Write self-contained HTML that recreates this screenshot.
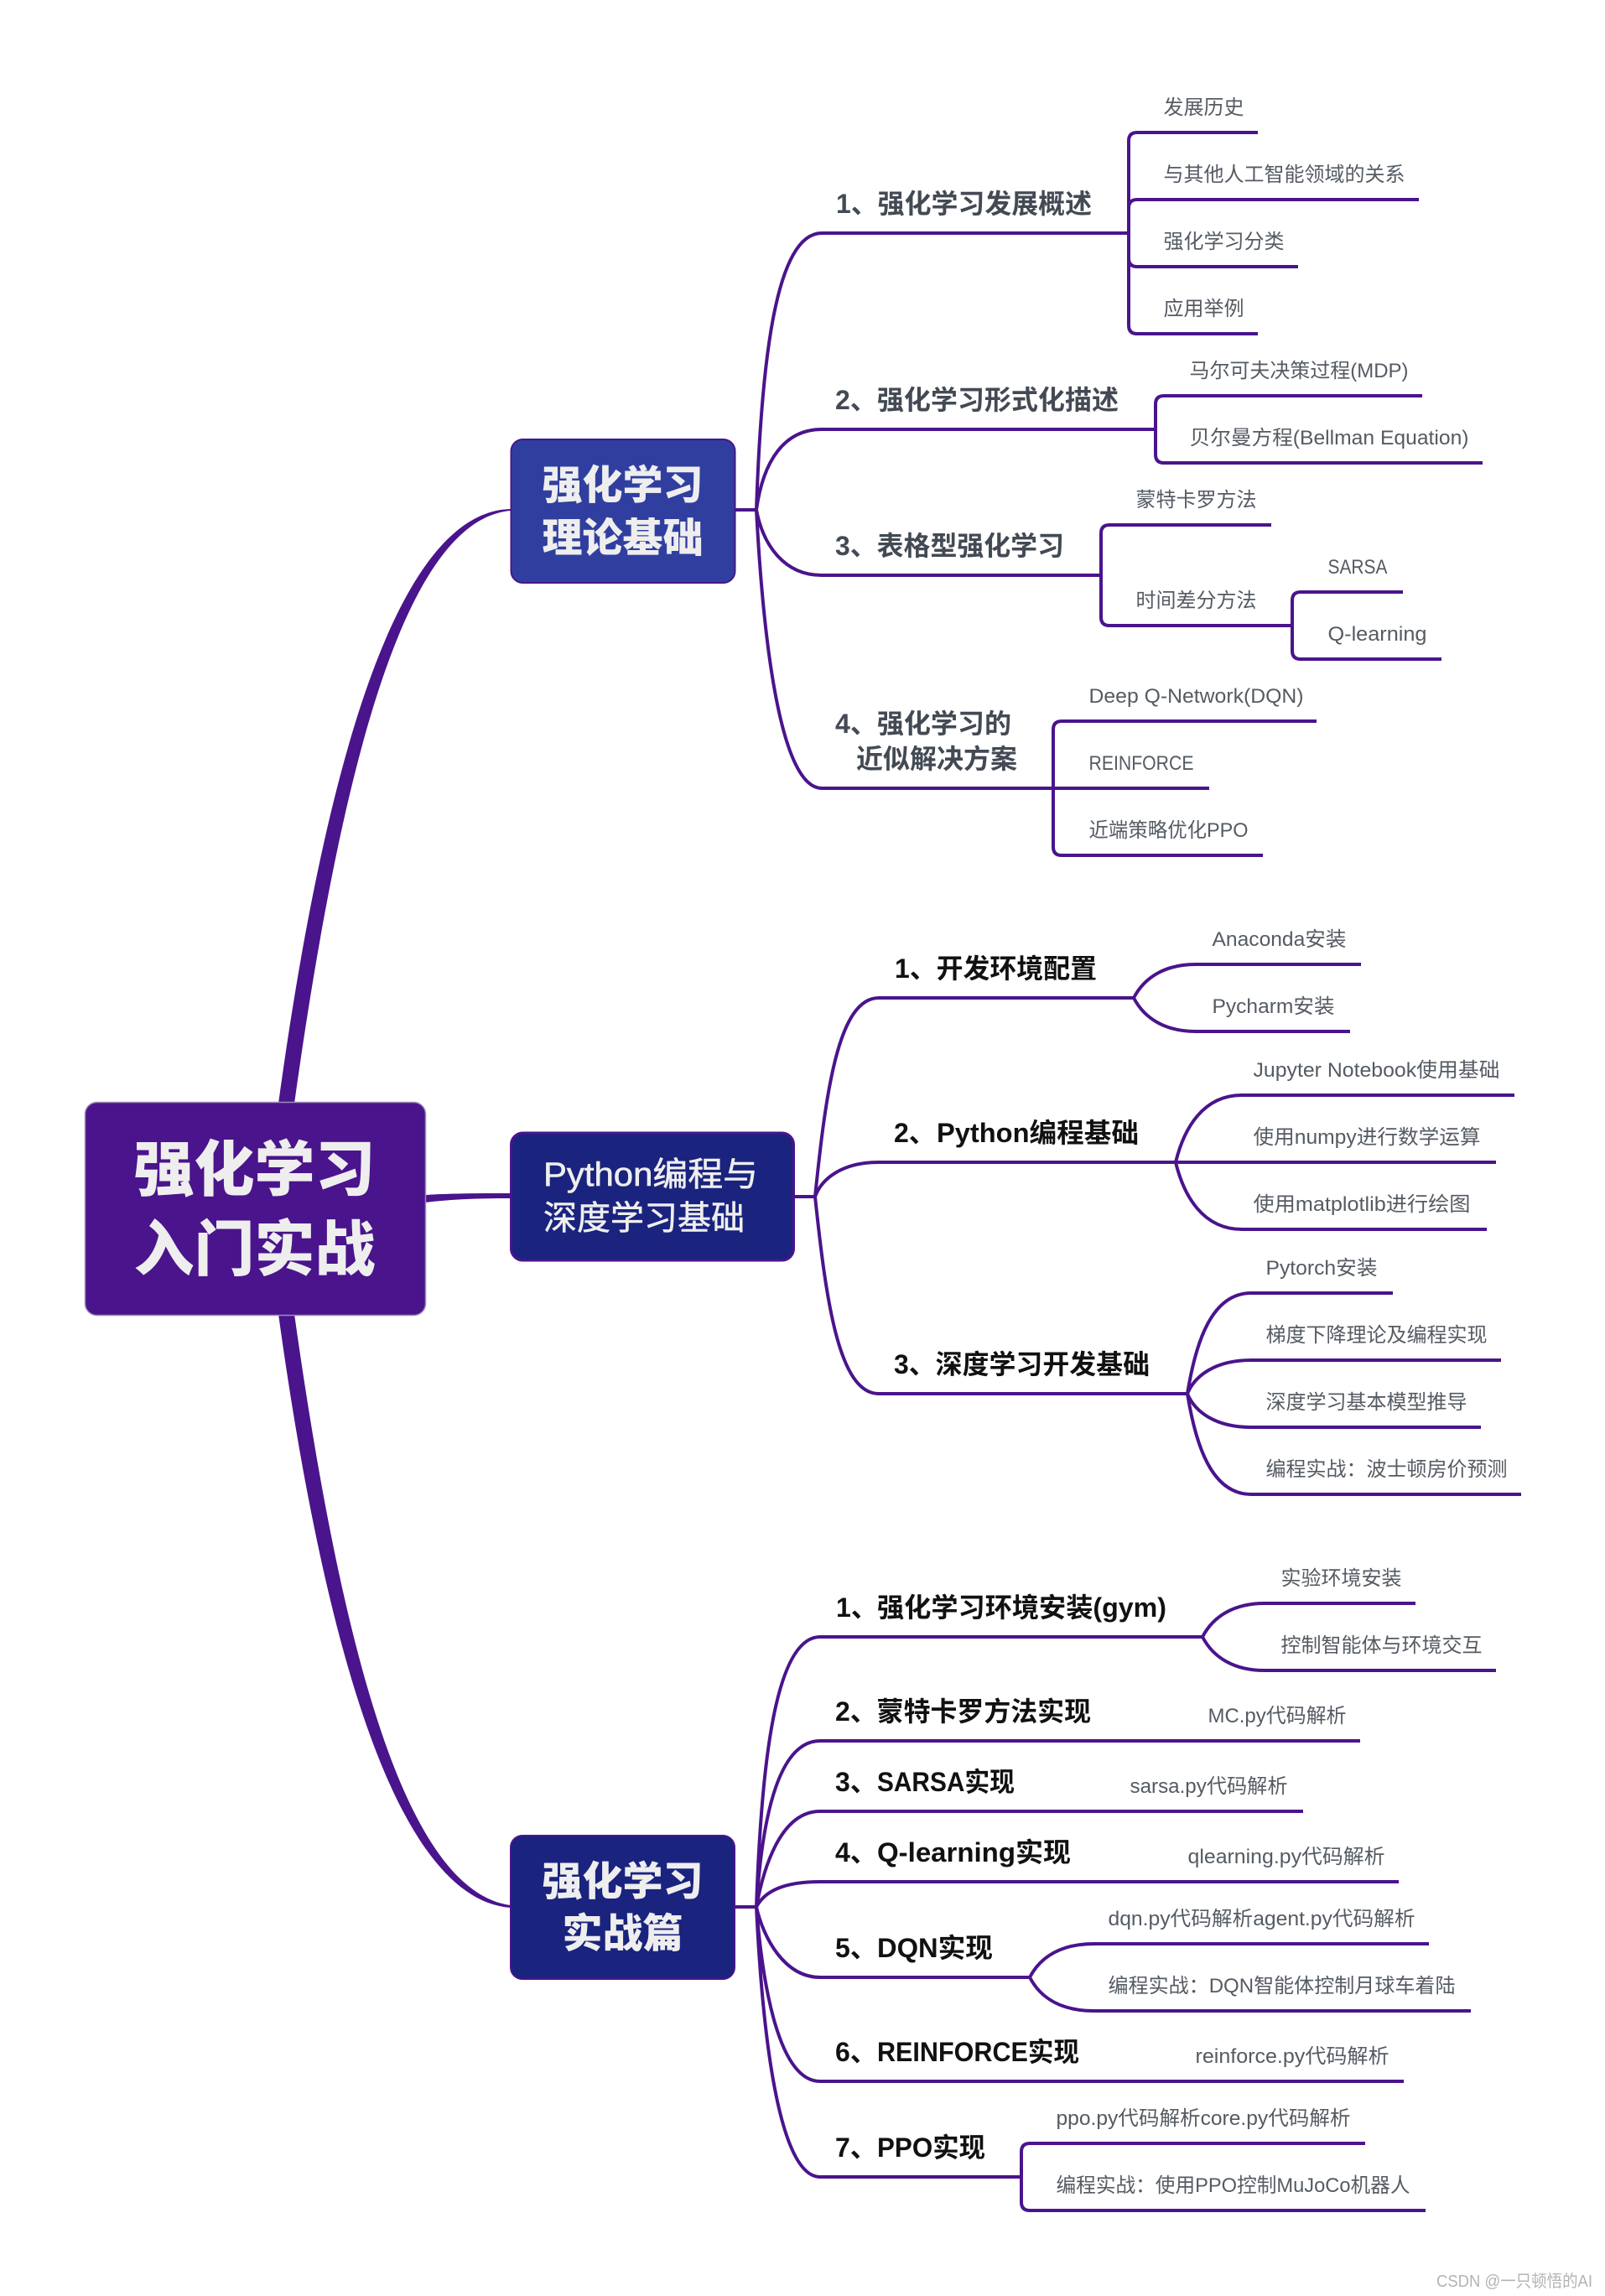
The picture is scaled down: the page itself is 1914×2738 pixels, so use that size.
<!DOCTYPE html>
<html><head><meta charset="utf-8">
<style>
html,body{margin:0;padding:0;background:#fff;width:1914px;height:2738px;overflow:hidden}
svg{display:block}
text{font-family:"Liberation Sans","Noto Sans CJK SC",sans-serif}
.l{fill:none;stroke:#4a148c;stroke-width:4}
.t3{font-size:24px;fill:#555b63}
.t2{font-size:32px;font-weight:700;fill:#111}
.t2g{font-size:32px;font-weight:700;fill:#434a54}
.b{font-size:48px;font-weight:900;fill:#eee;text-anchor:middle}
.r{font-size:72px;font-weight:900;fill:#eee;text-anchor:middle}
.p{font-size:40px;fill:#eee;stroke:#eee;stroke-width:.6}
</style></head><body>
<svg width="1914" height="2738" viewBox="0 0 1914 2738" xmlns="http://www.w3.org/2000/svg">
<rect width="1914" height="2738" fill="#fff"/>
<!-- main branches -->
<path d="M332 1316C385 930 470 610 609 607L609 609C480 620 405 930 351 1316Z" fill="#4a148c"/>
<path d="M332 1567C385 1950 470 2265 609 2275L609 2272C480 2255 405 1950 351 1567Z" fill="#4a148c"/>
<path d="M507 1425C540 1423 570 1423 609 1423L609 1429C570 1429 540 1430 507 1434Z" fill="#4a148c"/>
<!-- theory -->
<path class="l" d="M876 608H902M902 608C908 430 925 278 980 278H1346M902 608C910 550 935 512 980 512H1378M902 608C910 650 935 686 980 686H1313M902 608C910 760 930 940 980 940H1442"/>
<path class="l" d="M1500 158H1356Q1346 158 1346 168V388Q1346 398 1356 398H1500M1692 238H1356Q1346 238 1346 248M1548 318H1356Q1346 318 1346 308"/>
<path class="l" d="M1696 472H1388Q1378 472 1378 482V542Q1378 552 1388 552H1768"/>
<path class="l" d="M1516 626H1323Q1313 626 1313 636V736Q1313 746 1323 746H1541M1673 706H1551Q1541 706 1541 716V776Q1541 786 1551 786H1719"/>
<path class="l" d="M1570 860H1266Q1256 860 1256 870V1010Q1256 1020 1266 1020H1506"/>
<!-- python -->
<path class="l" d="M947 1427H972M972 1427C985 1300 1000 1190 1048 1190H1352M972 1427C980 1405 1005 1386 1048 1386H1784M972 1427C985 1550 1000 1662 1048 1662H1416"/>
<path class="l" d="M1352 1190C1365 1165 1390 1150 1426 1150H1623M1352 1190C1365 1215 1390 1230 1426 1230H1610"/>
<path class="l" d="M1402 1386C1412 1345 1435 1306 1481 1306H1806M1402 1386C1412 1427 1435 1466 1481 1466H1773"/>
<path class="l" d="M1416 1662C1426 1600 1445 1542 1492 1542H1661M1416 1662C1425 1640 1450 1622 1492 1622H1790M1416 1662C1425 1684 1450 1702 1492 1702H1766M1416 1662C1426 1724 1445 1782 1492 1782H1814"/>
<!-- practice -->
<path class="l" d="M876 2274H902M902 2274C908 2100 925 1952 978 1952H1434M902 2274C908 2180 925 2076 978 2076H1622M902 2274C910 2230 930 2160 978 2160H1554M902 2274C912 2255 935 2244 978 2244H1668M902 2274C910 2310 935 2358 978 2358H1228M902 2274C908 2350 925 2482 978 2482H1674M902 2274C908 2400 925 2596 978 2596H1217"/>
<path class="l" d="M1434 1952C1447 1927 1472 1912 1508 1912H1688M1434 1952C1447 1977 1472 1992 1508 1992H1784"/>
<path class="l" d="M1228 2358C1241 2333 1266 2318 1305 2318H1704M1228 2358C1241 2383 1266 2398 1305 2398H1754"/>
<path class="l" d="M1628 2556H1228Q1218 2556 1218 2566V2626Q1218 2636 1228 2636H1700"/>
<!-- nodes -->
<rect x="101.5" y="1314.5" width="406" height="254" rx="14" fill="#4a148c" stroke="#9d8db8" stroke-width="1.5"/>
<text class="r" x="303.5" y="1420">强化学习</text>
<text class="r" x="303.5" y="1515">入门实战</text>
<rect x="609.5" y="524" width="267" height="171" rx="14" fill="#303f9f" stroke="#4a148c" stroke-width="2"/>
<text class="b" x="742.5" y="595">强化学习</text>
<text class="b" x="742.5" y="658">理论基础</text>
<rect x="609.5" y="1351" width="337" height="152" rx="14" fill="#1a237e" stroke="#4a148c" stroke-width="3"/>
<text class="p" x="648" y="1414" textLength="256" lengthAdjust="spacingAndGlyphs">Python编程与</text>
<text class="p" x="648" y="1466">深度学习基础</text>
<rect x="609" y="2189" width="267" height="171" rx="14" fill="#1a237e" stroke="#4a148c" stroke-width="2"/>
<text class="b" x="742.5" y="2260">强化学习</text>
<text class="b" x="742.5" y="2322">实战篇</text>
<g transform="translate(0,-1)">
<!-- L2 theory -->
<text class="t2g" x="997" y="255" textLength="305" lengthAdjust="spacingAndGlyphs">1、强化学习发展概述</text>
<text class="t2g" x="996" y="489" textLength="338" lengthAdjust="spacingAndGlyphs">2、强化学习形式化描述</text>
<text class="t2g" x="996" y="663" textLength="273" lengthAdjust="spacingAndGlyphs">3、表格型强化学习</text>
<text class="t2g" x="996" y="875" textLength="210" lengthAdjust="spacingAndGlyphs">4、强化学习的</text>
<text class="t2g" x="1021" y="917">近似解决方案</text>
<!-- L2 python -->
<text class="t2" x="1067" y="1167" textLength="241" lengthAdjust="spacingAndGlyphs">1、开发环境配置</text>
<text class="t2" x="1066" y="1363">2、</text><text class="t2" x="1117" y="1363" textLength="241" lengthAdjust="spacingAndGlyphs">Python编程基础</text>
<text class="t2" x="1066" y="1639" textLength="305" lengthAdjust="spacingAndGlyphs">3、深度学习开发基础</text>
<!-- L2 practice -->
<text class="t2" x="997" y="1929">1、</text><text class="t2" x="1046" y="1929" textLength="345" lengthAdjust="spacingAndGlyphs">强化学习环境安装(gym)</text>
<text class="t2" x="996" y="2053" textLength="305" lengthAdjust="spacingAndGlyphs">2、蒙特卡罗方法实现</text>
<text class="t2" x="996" y="2137">3、</text><text class="t2" x="1046" y="2137" textLength="164" lengthAdjust="spacingAndGlyphs">SARSA实现</text>
<text class="t2" x="996" y="2221">4、</text><text class="t2" x="1046" y="2221" textLength="231" lengthAdjust="spacingAndGlyphs">Q-learning实现</text>
<text class="t2" x="996" y="2335">5、</text><text class="t2" x="1046" y="2335" textLength="138" lengthAdjust="spacingAndGlyphs">DQN实现</text>
<text class="t2" x="996" y="2459">6、</text><text class="t2" x="1046" y="2459" textLength="241" lengthAdjust="spacingAndGlyphs">REINFORCE实现</text>
<text class="t2" x="996" y="2573">7、</text><text class="t2" x="1046" y="2573" textLength="129" lengthAdjust="spacingAndGlyphs">PPO实现</text>
</g>
<g transform="translate(-0.5,-1)">
<!-- L3 theory -->
<text class="t3" x="1388" y="137">发展历史</text>
<text class="t3" x="1388" y="217">与其他人工智能领域的关系</text>
<text class="t3" x="1388" y="297">强化学习分类</text>
<text class="t3" x="1388" y="377">应用举例</text>
<text class="t3" x="1419" y="451" textLength="261" lengthAdjust="spacingAndGlyphs">马尔可夫决策过程(MDP)</text>
<text class="t3" x="1419" y="531" textLength="333" lengthAdjust="spacingAndGlyphs">贝尔曼方程(Bellman Equation)</text>
<text class="t3" x="1355" y="605">蒙特卡罗方法</text>
<text class="t3" x="1355" y="725">时间差分方法</text>
<text class="t3" x="1584" y="685" textLength="71" lengthAdjust="spacingAndGlyphs">SARSA</text>
<text class="t3" x="1584" y="765" textLength="118" lengthAdjust="spacingAndGlyphs">Q-learning</text>
<text class="t3" x="1299" y="839" textLength="256" lengthAdjust="spacingAndGlyphs">Deep Q-Network(DQN)</text>
<text class="t3" x="1299" y="919" textLength="125" lengthAdjust="spacingAndGlyphs">REINFORCE</text>
<text class="t3" x="1299" y="999" textLength="190" lengthAdjust="spacingAndGlyphs">近端策略优化PPO</text>
<!-- L3 python -->
<text class="t3" x="1446" y="1129" textLength="160" lengthAdjust="spacingAndGlyphs">Anaconda安装</text>
<text class="t3" x="1446" y="1209" textLength="146" lengthAdjust="spacingAndGlyphs">Pycharm安装</text>
<text class="t3" x="1495" y="1285" textLength="294" lengthAdjust="spacingAndGlyphs">Jupyter Notebook使用基础</text>
<text class="t3" x="1495" y="1365" textLength="271" lengthAdjust="spacingAndGlyphs">使用numpy进行数学运算</text>
<text class="t3" x="1495" y="1445" textLength="259" lengthAdjust="spacingAndGlyphs">使用matplotlib进行绘图</text>
<text class="t3" x="1510" y="1521" textLength="133" lengthAdjust="spacingAndGlyphs">Pytorch安装</text>
<text class="t3" x="1510" y="1601">梯度下降理论及编程实现</text>
<text class="t3" x="1510" y="1681">深度学习基本模型推导</text>
<text class="t3" x="1510" y="1761">编程实战：波士顿房价预测</text>
<!-- L3 practice -->
<text class="t3" x="1528" y="1891">实验环境安装</text>
<text class="t3" x="1528" y="1971">控制智能体与环境交互</text>
<text class="t3" x="1441" y="2055" textLength="165" lengthAdjust="spacingAndGlyphs">MC.py代码解析</text>
<text class="t3" x="1348" y="2139" textLength="188" lengthAdjust="spacingAndGlyphs">sarsa.py代码解析</text>
<text class="t3" x="1417" y="2223" textLength="235" lengthAdjust="spacingAndGlyphs">qlearning.py代码解析</text>
<text class="t3" x="1322" y="2297" textLength="366" lengthAdjust="spacingAndGlyphs">dqn.py代码解析agent.py代码解析</text>
<text class="t3" x="1322" y="2377" textLength="414" lengthAdjust="spacingAndGlyphs">编程实战：DQN智能体控制月球车着陆</text>
<text class="t3" x="1426" y="2461" textLength="231" lengthAdjust="spacingAndGlyphs">reinforce.py代码解析</text>
<text class="t3" x="1260" y="2535" textLength="351" lengthAdjust="spacingAndGlyphs">ppo.py代码解析core.py代码解析</text>
<text class="t3" x="1260" y="2615" textLength="422" lengthAdjust="spacingAndGlyphs">编程实战：使用PPO控制MuJoCo机器人</text>
</g>
<text x="1713" y="2727" font-size="20" fill="#b4b4b4" textLength="186" lengthAdjust="spacingAndGlyphs">CSDN @一只顿悟的AI</text>
</svg>
</body></html>
